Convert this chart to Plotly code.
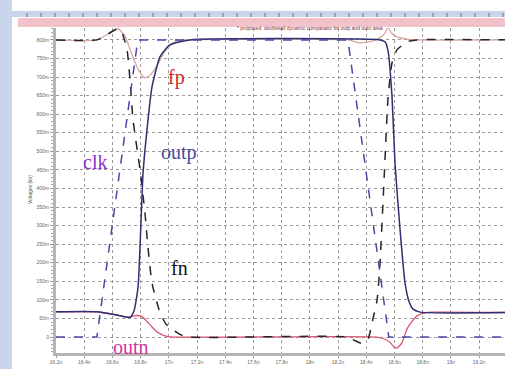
import plotly.graph_objects as go

# ---- data (time in ns, voltage in V) ----
clk_t = [16.20, 16.49, 16.78, 18.27, 18.56, 19.40]
clk_v = [0.0, 0.0, 0.8, 0.8, 0.0, 0.0]

outp_t = [16.20, 16.49, 16.62, 16.725, 16.753, 16.782, 16.817, 16.845, 16.881, 16.938,
          17.009, 17.15, 18.498, 18.533, 18.555, 18.583, 18.604, 18.64, 18.675, 18.704,
          18.732, 18.782, 19.40]
outp_v = [0.068, 0.068, 0.06, 0.053, 0.07, 0.135, 0.44, 0.557, 0.674, 0.755,
          0.787, 0.8, 0.8, 0.795, 0.77, 0.646, 0.468, 0.288, 0.145, 0.095,
          0.075, 0.067, 0.066]

fn_t = [16.20, 16.49, 16.64, 16.668, 16.704, 16.725, 16.746, 16.796, 16.831, 16.852,
        16.881, 16.938, 16.98, 17.03, 17.079, 17.129, 18.271, 18.321, 18.37, 18.413,
        18.448, 18.477, 18.498, 18.526, 18.555, 18.583, 18.618, 18.689, 18.76, 19.40]
fn_v = [0.8, 0.8, 0.83, 0.82, 0.773, 0.692, 0.585, 0.45, 0.334, 0.242,
        0.145, 0.065, 0.035, 0.019, 0.007, 0.0, 0.0, -0.01, -0.017, -0.005,
        0.05, 0.1, 0.2, 0.42, 0.646, 0.738, 0.773, 0.795, 0.8, 0.8]

fp_t = [16.20, 16.49, 16.64, 16.689, 16.725, 16.76, 16.796, 16.831, 16.867, 16.916,
        16.973, 17.044, 17.115, 18.271, 18.356, 18.448, 18.498, 18.533, 18.555, 18.576,
        18.618, 18.689, 18.76, 19.40]
fp_v = [0.8, 0.8, 0.83, 0.81, 0.775, 0.74, 0.712, 0.698, 0.705, 0.73,
        0.77, 0.795, 0.8, 0.8, 0.792, 0.797, 0.806, 0.818, 0.835, 0.82,
        0.808, 0.802, 0.8, 0.8]

outn_t = [16.20, 16.49, 16.62, 16.711, 16.746, 16.774, 16.81, 16.845, 16.881, 16.923,
          16.973, 17.023, 18.477, 18.533, 18.569, 18.597, 18.618, 18.654, 18.689, 18.725,
          18.76, 18.817, 18.867, 19.40]
outn_v = [0.068, 0.068, 0.06, 0.053, 0.056, 0.058, 0.055, 0.042, 0.027, 0.012,
          0.003, 0.0, 0.0, -0.006, -0.015, -0.026, -0.03, -0.015, 0.022, 0.042,
          0.057, 0.065, 0.067, 0.066]

x_ticks = [16.2, 16.4, 16.6, 16.8, 17.0, 17.2, 17.4, 17.6, 17.8, 18.0, 18.2, 18.4,
           18.6, 18.8, 19.0, 19.2, 19.4]
x_tick_text = ["16.2n", "16.4n", "16.6n", "16.8n", "17n", "17.2n", "17.4n", "17.6n",
               "17.8n", "18n", "18.2n", "18.4n", "18.6n", "18.8n", "19n", "19.2n", "19.4n"]
y_ticks = [0.0, 0.05, 0.1, 0.15, 0.2, 0.25, 0.3, 0.35, 0.4, 0.45, 0.5, 0.55, 0.6,
           0.65, 0.7, 0.75, 0.8]
y_tick_text = ["0", "50m", "100m", "150m", "200m", "250m", "300m", "350m", "400m",
               "450m", "500m", "550m", "600m", "650m", "700m", "750m", "800m"]

labels = [
    ("fp", 17.051, 0.698, "#cc2a2a"),
    ("clk", 16.477, 0.471, "#8a2fd0"),
    ("outp", 17.072, 0.496, "#4a4a9a"),
    ("fn", 17.079, 0.186, "#111111"),
    ("outn", 16.732, -0.027, "#d6339a"),
]

fig = go.Figure()
fig.add_trace(go.Scatter(x=outn_t, y=outn_v, mode="lines", name="outn",
                         line=dict(color="#d8546f", width=1.3, shape="spline", smoothing=0.5)))
fig.add_trace(go.Scatter(x=fp_t, y=fp_v, mode="lines", name="fp",
                         line=dict(color="#d9a7a0", width=1.3, shape="spline", smoothing=0.5)))
fig.add_trace(go.Scatter(x=fn_t, y=fn_v, mode="lines", name="fn",
                         line=dict(color="#262626", width=1.5, dash="dash", shape="spline", smoothing=0.5)))
fig.add_trace(go.Scatter(x=outp_t, y=outp_v, mode="lines", name="outp",
                         line=dict(color="#2f2f72", width=1.5, shape="spline", smoothing=0.5)))
fig.add_trace(go.Scatter(x=clk_t, y=clk_v, mode="lines", name="clk",
                         line=dict(color="#4848aa", width=1.5, dash="dash")))

for txt, lx, ly, col in labels:
    fig.add_annotation(x=lx, y=ly, xref="x", yref="y", text=txt, showarrow=False,
                       font=dict(family="Liberation Serif", size=20, color=col))

# title band text
fig.add_annotation(x=(310 - 56) / 449, y=(353 - 23) / 325, xref="paper", yref="paper",
                   text="* proposed  doubletail dynamic comparator for outp and outn area",
                   showarrow=False, font=dict(family="Liberation Sans", size=5, color="#7a2a2a"))
# y axis title
fig.add_annotation(x=(25 - 56) / 449, y=(353 - 190) / 325, xref="paper", yref="paper",
                   text="Voltages (lin)", textangle=-90, showarrow=False,
                   font=dict(family="Liberation Sans", size=5, color="#555"))

shapes = []
# left blue strip
shapes.append(dict(type="rect", xref="paper", yref="paper", x0=-0.13, x1=(12 - 56) / 449,
                   y0=-0.1, y1=1.1, fillcolor="#c9d5ea", line=dict(width=0), layer="below"))
# top ruler band
shapes.append(dict(type="rect", xref="paper", yref="paper", x0=(12 - 56) / 449, x1=1.0,
                   y0=(353 - 17) / 325, y1=(353 - 11) / 325, fillcolor="#c9d5ea",
                   line=dict(width=0), layer="below"))
for k in range(35):
    px = 27 + 14 * k
    if px > 505:
        break
    shapes.append(dict(type="line", xref="paper", yref="paper", x0=(px - 56) / 449, x1=(px - 56) / 449,
                       y0=(353 - 17) / 325, y1=(353 - 13) / 325, line=dict(color="#777", width=1)))
# pink title band
shapes.append(dict(type="rect", xref="paper", yref="paper", x0=(18 - 56) / 449, x1=1.0,
                   y0=(353 - 27) / 325, y1=(353 - 18) / 325, fillcolor="#f3c3cc",
                   line=dict(width=0), layer="below"))
fig.update_layout(shapes=shapes)

fig.update_layout(
    width=505, height=369,
    margin=dict(l=56, r=0, t=28, b=16),
    paper_bgcolor="white", plot_bgcolor="white",
    showlegend=False,
    xaxis=dict(range=[16.2, 19.384], tickvals=x_ticks, ticktext=x_tick_text,
               showgrid=True, gridcolor="#9a9a9a", griddash="dot", gridwidth=1,
               zeroline=False, showline=True, linecolor="#b5b5b5", linewidth=3,
               ticks="outside", ticklen=2, tickcolor="#999",
               tickfont=dict(family="Liberation Sans", size=5, color="#666")),
    yaxis=dict(range=[-0.043, 0.832], tickvals=y_ticks, ticktext=y_tick_text,
               showgrid=True, gridcolor="#9a9a9a", griddash="dot", gridwidth=1,
               zeroline=False, showline=True, linecolor="#b5b5b5", linewidth=3,
               ticks="outside", ticklen=3, tickcolor="#999",
               minor=dict(dtick=0.01, ticks="outside", ticklen=2, tickcolor="#aaa"),
               tickfont=dict(family="Liberation Sans", size=5, color="#666")),
)

fig.write_html("out.html", config={"displayModeBar": False},
               post_script="document.body.style.margin='0';document.body.style.overflow='hidden';")
